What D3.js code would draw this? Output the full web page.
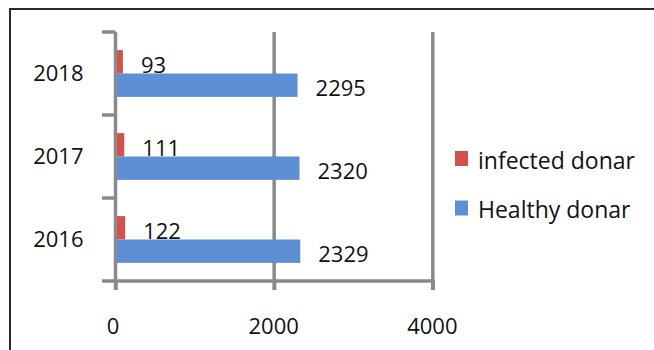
<!DOCTYPE html>
<html>
<head>
<meta charset="utf-8">
<script src="https://cdn.jsdelivr.net/npm/d3@7/dist/d3.min.js"></script>
<style>
  html, body { margin: 0; padding: 0; background: #ffffff; }
  svg text { font-family: "Open Sans", "Noto Sans", sans-serif; fill: #111; }
</style>
</head>
<body>
<svg id="chart" width="654" height="350"></svg>
<script>
// Donor counts per year (top to bottom as drawn: 2018, 2017, 2016)
const years = ["2018", "2017", "2016"];
const infected = [93, 111, 122];
const healthy = [2295, 2320, 2329];
const seriesNames = ["infected donar", "Healthy donar"];
const seriesColors = ["#d4504b", "#5c8fd4"];
const xTicks = [0, 2000, 4000];

const svg = d3.select("#chart");
const axisColor = "#8a8a8a";

// outer chart frame (only top and left edges fall inside the view)
svg.append("rect")
  .attr("x", 10).attr("y", 9)
  .attr("width", 700).attr("height", 400)
  .attr("fill", "#ffffff")
  .attr("stroke", "#2a2a2a")
  .attr("stroke-width", 2);

const x = d3.scaleLinear().domain([0, 4000]).range([115.5, 432.8]);
const y = d3.scaleBand().domain(years).range([32, 281])
  .paddingInner(0.437).paddingOuter(0.437 / 2);
const ys = d3.scaleBand().domain(seriesNames).range([0, y.bandwidth()]);

const plotTop = 32, plotBottom = 281;

// vertical gridlines (the x ticks run below the axis line)
svg.append("g").selectAll("line")
  .data(xTicks.filter(d => d > 0))
  .join("line")
  .attr("x1", d => x(d)).attr("x2", d => x(d))
  .attr("y1", plotTop).attr("y2", plotBottom + 9)
  .attr("stroke", axisColor).attr("stroke-width", 3.5);

// bars
const rows = years.map((yr, i) => ({ year: yr, vals: [infected[i], healthy[i]] }));
const groups = svg.append("g").selectAll("g")
  .data(rows).join("g")
  .attr("transform", d => `translate(0,${y(d.year)})`);

groups.selectAll("rect")
  .data(d => d.vals.map((v, k) => ({ v, k })))
  .join("rect")
  .attr("x", x(0))
  .attr("y", d => ys(seriesNames[d.k]))
  .attr("width", d => x(d.v) - x(0))
  .attr("height", ys.bandwidth())
  .attr("fill", d => seriesColors[d.k]);

// value labels
groups.selectAll("text")
  .data(d => d.vals.map((v, k) => ({ v, k })))
  .join("text")
  .attr("x", d => x(d.v) + 18)
  .attr("y", d => ys(seriesNames[d.k]) + ys.bandwidth() / 2 + 2)
  .attr("dominant-baseline", "central")
  .attr("font-size", 22)
  .text(d => d.v);

// x axis (line at bottom of the plot, tick labels below)
const xAxis = d3.axisBottom(x).tickValues(xTicks).tickSize(9).tickFormat(d3.format("d"));
const gx = svg.append("g").attr("transform", `translate(0,${plotBottom})`).call(xAxis);
gx.select(".domain").remove();
gx.selectAll(".tick line").attr("stroke", axisColor).attr("stroke-width", 3.5);
gx.selectAll(".tick text").attr("font-size", 22).attr("y", 0).attr("dy", 53)
  .attr("x", d => d === 0 ? -3 : -1)
  .attr("font-family", "Open Sans").attr("fill", "#111");
svg.append("line")
  .attr("x1", 102).attr("x2", x(4000) + 1.5)
  .attr("y1", plotBottom).attr("y2", plotBottom)
  .attr("stroke", axisColor).attr("stroke-width", 3.5);

// y axis with category separators
const yAxis = d3.axisLeft(y).tickSize(0).tickPadding(0);
const gy = svg.append("g").attr("transform", `translate(${x(0)},0)`).call(yAxis);
gy.select(".domain").remove();
gy.selectAll(".tick text").attr("font-size", 22).attr("x", -32)
  .attr("dy", "0.35em").attr("font-family", "Open Sans").attr("fill", "#111");
svg.append("line")
  .attr("x1", x(0)).attr("x2", x(0))
  .attr("y1", plotTop).attr("y2", plotBottom + 9)
  .attr("stroke", axisColor).attr("stroke-width", 3.5);
const step = y.step();
svg.append("g").selectAll("line")
  .data(d3.range(years.length))
  .join("line")
  .attr("x1", 102).attr("x2", x(0))
  .attr("y1", i => plotTop + i * step).attr("y2", i => plotTop + i * step)
  .attr("stroke", axisColor).attr("stroke-width", 3.5);

// legend
const legend = svg.append("g").selectAll("g")
  .data(seriesNames).join("g")
  .attr("transform", (d, i) => `translate(455,${151 + i * 49.5})`);
legend.append("rect")
  .attr("width", 13).attr("height", 15)
  .attr("fill", (d, i) => seriesColors[i]);
legend.append("text")
  .attr("x", 23).attr("y", 17.5)
  .attr("font-size", 23)
  .text(d => d);
</script>
</body>
</html>
